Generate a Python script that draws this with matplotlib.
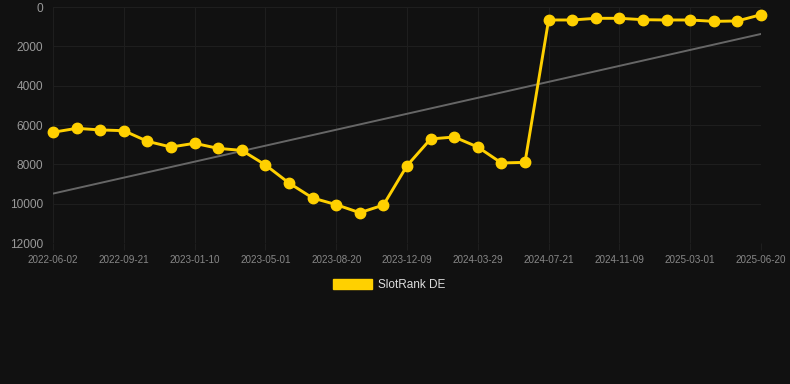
import numpy as np
import matplotlib.pyplot as plt
from matplotlib.patches import Patch

plt.rcParams['font.family'] = ['Liberation Sans', 'DejaVu Sans']

# rank per snapshot (31 snapshots, every ~37 days)
ranks = [6370, 6170, 6250, 6290, 6830, 7120, 6930, 7190, 7290, 8030,
         8950, 9710, 10050, 10460, 10070, 8070, 6710, 6610, 7120, 7930,
         7900, 660, 660, 575, 575, 645, 660, 660, 730, 710, 390]
tick_labels = ['2022-06-02', '2022-09-21', '2023-01-10', '2023-05-01',
               '2023-08-20', '2023-12-09', '2024-03-29', '2024-07-21',
               '2024-11-09', '2025-03-01', '2025-06-20']
series_name = 'SlotRank DE'

bg = '#111111'
yellow = '#FFD000'
grid_c = '#1e1e1e'

fig = plt.figure(figsize=(7.9, 3.84), dpi=100, facecolor=bg)
ax = fig.add_axes([53/790, 1-243/384, (761-53)/790, (243-7)/384])
ax.set_facecolor(bg)

x = np.arange(len(ranks))
ax.plot(x, ranks, color=yellow, lw=2.1, marker='o', ms=7.5,
        zorder=3, clip_on=False)

# trend line
k, b = np.polyfit(x, ranks, 1)
ax.plot(x, k*x + b, color='#666666', lw=1.4, zorder=2)

ax.set_xlim(0, len(ranks) - 1)
ax.set_ylim(12000, 0)
ax.set_yticks(range(0, 12001, 2000))
ax.set_xticks(x[::3])
ax.set_xticklabels(tick_labels)

ax.grid(True, color=grid_c, lw=0.8)
for s in ax.spines.values():
    s.set_visible(False)
ax.tick_params(axis='x', colors=grid_c, labelcolor='#888888',
               labelsize=7.1, length=5, pad=3.5)
ax.tick_params(axis='y', length=0, labelcolor='#999999',
               labelsize=8.6, pad=7)

fig.legend(handles=[Patch(color=yellow, label=series_name)],
           loc='center', bbox_to_anchor=(389/790, 1-285/384),
           frameon=False, fontsize=8.5, labelcolor='#dddddd',
           handlelength=3.3, handleheight=0.95, handletextpad=0.5)

fig.savefig('out.png', dpi=100, facecolor=bg)
